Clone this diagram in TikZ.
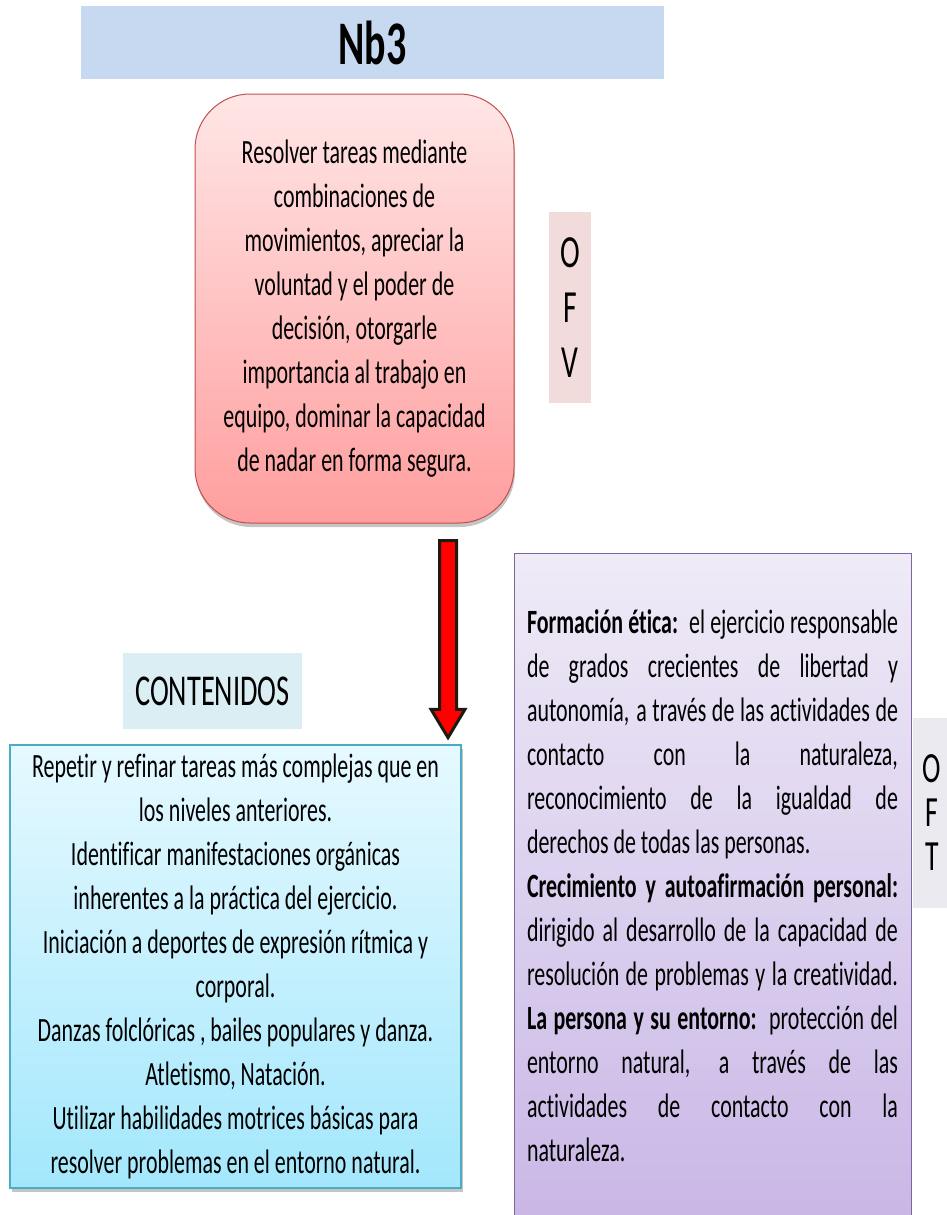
\documentclass[tikz,border=0pt]{standalone}
\usepackage{fontspec}
\setmainfont{Carlito}[FakeStretch=0.645,Ligatures={NoCommon,NoContextual},Contextuals=NoAlternate]
\usetikzlibrary{shapes.arrows,shadows}

\definecolor{TitleBlue}{HTML}{C6D9F1}
\definecolor{GoalTop}{HTML}{FFE6E6}
\definecolor{GoalBottom}{HTML}{FF9E9E}
\definecolor{GoalLine}{HTML}{C0504D}
\definecolor{TagPink}{HTML}{F2DCDB}
\definecolor{TagCyan}{HTML}{DAEEF3}
\definecolor{TagGray}{HTML}{ECEAF1}
\definecolor{ContTop}{HTML}{E6F9FF}
\definecolor{ContBottom}{HTML}{A3E7FC}
\definecolor{ContLine}{HTML}{4BACC6}
\definecolor{OftTop}{HTML}{EFEBF7}
\definecolor{OftBottom}{HTML}{C9B6E6}
\definecolor{OftLine}{HTML}{8064A2}
\definecolor{ArrowLine}{HTML}{1D1B11}

% one justified line of the OFT text
\newcommand{\fullline}[1]{\makebox[371pt][s]{\spaceskip=0pt plus 1fil\xspaceskip=0pt plus 1fil\relax #1}}

\tikzset{
  boxtext/.style={font=\fontsize{34}{44}\selectfont,align=center,inner sep=0pt},
  titlebox/.style={fill=TitleBlue,inner sep=0pt,font=\fontsize{62}{70}\selectfont\bfseries},
  goalbox/.style={boxtext,draw=GoalLine,line width=1pt,rounded corners=55pt,
    top color=GoalTop,bottom color=GoalBottom,
    drop shadow={shadow xshift=1pt,shadow yshift=-4pt,fill=black!45}},
  sidetag/.style={inner sep=0pt,align=center},
  contentbox/.style={boxtext,draw=ContLine,line width=1.2pt,
    top color=ContTop,bottom color=ContBottom,
    drop shadow={shadow xshift=2pt,shadow yshift=-4pt,fill=black!45}},
  oftbox/.style={draw=OftLine,line width=1pt,top color=OftTop,bottom color=OftBottom,inner sep=0pt},
  downarrow/.style={single arrow,shape border rotate=270,draw=ArrowLine,fill=red,
    line width=3pt,inner sep=7pt,single arrow head extend=8.5pt,
    single arrow tip angle=62,minimum height=197pt}
}

\begin{document}
\begin{tikzpicture}[x=1pt,y=-1pt]
  \useasboundingbox (0,0) rectangle (946,1215);

  % title
  \node[titlebox,minimum width=583pt,minimum height=73pt] (title) at (372.5,42.5) {Nb3};

  % objective box
  \node[goalbox,minimum width=319pt,minimum height=429pt] (goal) at (354.5,308.5)
    {Resolver tareas mediante\\combinaciones de\\movimientos, apreciar la\\
     voluntad y el poder de\\decisión, otorgarle\\importancia al trabajo en\\
     equipo, dominar la capacidad\\de nadar en forma segura.};

  % O F V tag
  \node[sidetag,fill=TagPink,minimum width=42pt,minimum height=191pt,
    font=\fontsize{46}{55}\selectfont] (ofv) at (570,307.5) {O\\F\\V};

  % arrow down to the contents
  \node[downarrow] (push) at (448,632) {};

  % contents heading
  \node[sidetag,fill=TagCyan,minimum width=179pt,minimum height=76pt,
    font=\fontsize{44}{50}\selectfont] (conthead) at (212.5,691) {CONTENIDOS};

  % contents box
  \node[contentbox,minimum width=451pt,minimum height=443pt] (contents) at (235.5,966.5)
    {Repetir y refinar tareas más complejas que en\\los niveles anteriores.\\
     Identificar manifestaciones orgánicas\\inherentes a la práctica del ejercicio.\\
     Iniciación a deportes de expresión rítmica y\\corporal.\\
     Danzas folclóricas , bailes populares y danza.\\Atletismo, Natación.\\
     Utilizar habilidades motrices básicas para\\resolver problemas en el entorno natural.};

  % OFT box (runs off the bottom edge)
  \node[oftbox,minimum width=397pt,minimum height=672pt] (oft) at (712.5,889) {};
  \node[boxtext,text width=371pt,align=left] (ofttext) at (712.5,886)
    {\spaceskip=0pt\xspaceskip=0pt
     \fullline{\textbf{Formación ética:}\hspace{6pt} el ejercicio responsable}\\
     \fullline{de grados crecientes de libertad y}\\
     \fullline{autonomía, a través de las actividades de}\\
     \fullline{contacto con la naturaleza,}\\
     \fullline{reconocimiento de la igualdad de}\\
     derechos de todas las personas.\\
     \fullline{\textbf{Crecimiento y autoafirmación personal:}}\\
     \fullline{dirigido al desarrollo de la capacidad de}\\
     \fullline{resolución de problemas y la creatividad.}\\
     \fullline{\textbf{La persona y su entorno:}\hspace{6pt} protección del}\\
     \fullline{entorno natural, a través de las}\\
     \fullline{actividades de contacto con la}\\
     naturaleza.};

  % O F T tag
  \node[sidetag,fill=TagGray,minimum width=38pt,minimum height=190pt,
    font=\fontsize{43}{44}\selectfont] (oftag) at (932,813) {O\\F\\T};
\end{tikzpicture}
\end{document}
